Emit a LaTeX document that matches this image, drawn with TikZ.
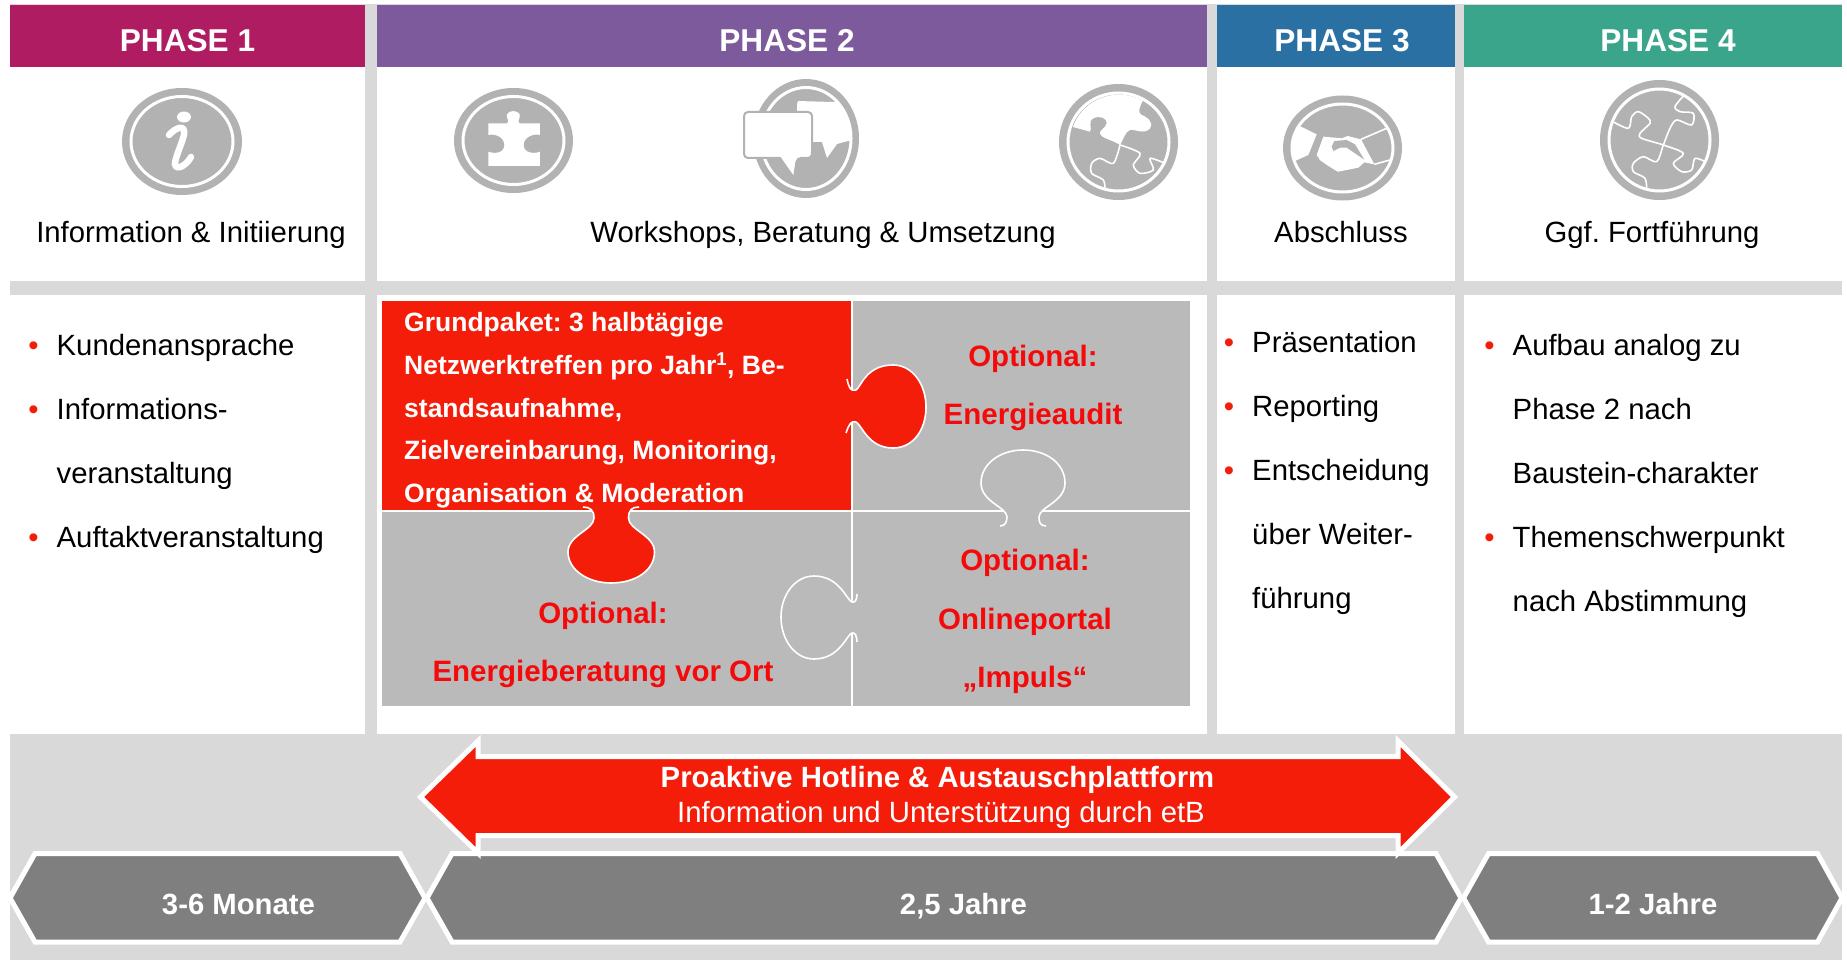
\documentclass[tikz,border=0pt]{standalone}
\usepackage{fontspec}
\setmainfont{Liberation Sans}
\frenchspacing
\usetikzlibrary{shapes.geometric}
\definecolor{phaseone}{HTML}{AF1C62}
\definecolor{phasetwo}{HTML}{7D5A9C}
\definecolor{phasethree}{HTML}{2A70A3}
\definecolor{phasefour}{HTML}{3BA58C}
\definecolor{signalred}{HTML}{F41D0A}
\definecolor{textred}{HTML}{F40A0A}
\definecolor{backgray}{HTML}{D9D9D9}
\definecolor{tilegray}{HTML}{BABABA}
\definecolor{icongray}{HTML}{B2B2B2}
\definecolor{spangray}{HTML}{7F7F7F}
\newcommand{\listdot}{\llap{\textcolor{signalred}{\textbullet}\hspace{18pt}}}
\tikzstyle{panel} =
        [
                rectangle,
                fill = white,
                anchor = north west,
                inner sep = 0pt
        ]
\tikzstyle{phase} =
        [
                rectangle,
                anchor = north west,
                text = white,
                inner sep = 0pt,
                minimum height = 62pt,
                font = \fontsize{31.6}{36}\selectfont\bfseries
        ]
\tikzstyle{subtitle} =
        [
                anchor = base,
                inner sep = 0pt,
                font = \fontsize{29.3}{34}\selectfont
        ]
\tikzstyle{listing} =
        [
                anchor = north west,
                align = left,
                inner sep = 0pt,
                font = \fontsize{29.3}{64.2}\selectfont
        ]
\tikzstyle{badge} =
        [
                ellipse,
                fill = icongray,
                inner sep = 0pt
        ]
\tikzstyle{ring} =
        [
                draw = white,
                line width = 3pt
        ]
\tikzstyle{seam} =
        [
                draw = white,
                line width = 1.6pt,
                line join = round
        ]
\tikzstyle{tile} =
        [
                rectangle,
                anchor = north west,
                fill = tilegray,
                inner sep = 0pt
        ]
\tikzstyle{option} =
        [
                inner sep = 0pt,
                text = textred,
                font = \fontsize{29.5}{34}\selectfont\bfseries
        ]
\tikzstyle{span} =
        [
                draw = white,
                fill = spangray,
                line width = 5pt,
                line join = miter
        ]
\tikzstyle{spantext} =
        [
                inner sep = 0pt,
                anchor = base,
                text = white,
                font = \fontsize{29.3}{34}\selectfont\bfseries
        ]

\begin{document}
\begin{tikzpicture}[x = 1pt, y = -1pt]
        \useasboundingbox (0,0) rectangle (1847,960);
        \node [panel, fill = backgray, minimum width = 1832pt, minimum height = 956pt] (back) at (10,4) {};

        \node [panel, minimum width = 355pt, minimum height = 214pt] (headone) at (10,67) {};
        \node [panel, minimum width = 830pt, minimum height = 214pt] (headtwo) at (377,67) {};
        \node [panel, minimum width = 238pt, minimum height = 214pt] (headthree) at (1217,67) {};
        \node [panel, minimum width = 378pt, minimum height = 214pt] (headfour) at (1464,67) {};
        \node [panel, minimum width = 355pt, minimum height = 439pt] (bodyone) at (10,295) {};
        \node [panel, minimum width = 830pt, minimum height = 439pt] (bodytwo) at (377,295) {};
        \node [panel, minimum width = 238pt, minimum height = 439pt] (bodythree) at (1217,295) {};
        \node [panel, minimum width = 378pt, minimum height = 439pt] (bodyfour) at (1464,295) {};

        \node [phase, fill = phaseone, minimum width = 355pt] (phase1) at (10,5) {};
        \node [phase, fill = phasetwo, minimum width = 830pt] (phase2) at (377,5) {};
        \node [phase, fill = phasethree, minimum width = 238pt] (phase3) at (1217,5) {};
        \node [phase, fill = phasefour, minimum width = 378pt] (phase4) at (1464,5) {};
        \node [phase, minimum height = 0pt, anchor = center] (label1) at (187.5,41) {PHASE 1};
        \node [phase, minimum height = 0pt, anchor = center] (label2) at (787,41) {PHASE 2};
        \node [phase, minimum height = 0pt, anchor = center] (label3) at (1342,41) {PHASE 3};
        \node [phase, minimum height = 0pt, anchor = center] (label4) at (1668,41) {PHASE 4};

        % info
        \node [badge, minimum width = 120pt, minimum height = 107pt] (iconinfo) at (182,141.5) {};
        \draw [ring] (iconinfo.center) ellipse [x radius = 51, y radius = 45];
        \fill [white] (184,117) ellipse [x radius = 7, y radius = 5.5];
        \draw [white, line width = 6.5pt, line cap = round] (169,135) .. controls (176,127) and (186,124) .. (184,135) .. controls (181,146) and (175,158) .. (175,164) .. controls (176,171) and (186,166) .. (191,157);

        % piece
        \node [badge, minimum width = 119pt, minimum height = 105pt] (iconpiece) at (513.5,140.5) {};
        \draw [ring] (iconpiece.center) ellipse [x radius = 50.5, y radius = 44];
        \begin{scope}[shift = {(445,80)}, x = 0.3333pt, y = -0.3333pt]
                \fill [white] (130,130) -- (186,130) .. controls (196,125) and (182,112) .. (186,103) .. controls (192,90) and (218,90) .. (224,103) .. controls (228,112) and (214,125) .. (224,130) -- (285,130) -- (285,165) .. controls (268,160) and (236,170) .. (236,195) .. controls (236,220) and (268,222) .. (285,215) -- (285,258) -- (130,258) -- (130,215) .. controls (148,222) and (178,220) .. (178,195) .. controls (178,170) and (148,160) .. (130,165) -- cycle;
        \end{scope}

        % chat
        \node [badge, minimum width = 106pt, minimum height = 119pt] (iconchat) at (806,138.5) {};
        \draw [ring] (iconchat.center) ellipse [x radius = 45, y radius = 51];
        \begin{scope}
                \clip (iconchat.center) ellipse [x radius = 44, y radius = 50];
                \fill [white] (797,104) -- (798,101) -- (832,102) -- (870,100) -- (870,140) -- (848,141) -- (837,144) -- (827,158) -- (822,142) -- (812,142) -- (790,130) -- (797,125) -- cycle;
        \end{scope}
        \draw [icongray, fill = white, line width = 2pt, rounded corners = 4pt] (744,112) -- (812,112) -- (812,158) -- (797,158) [sharp corners] -- (794,178) -- (780,158) [rounded corners = 4pt] -- (744,158) -- cycle;

        % link
        \node [badge, minimum width = 119pt, minimum height = 116pt] (iconlink) at (1118.5,142) {};
        \draw [ring] (iconlink.center) ellipse [x radius = 50.5, y radius = 49];
        \begin{scope}[shift = {(1050,75)}, x = 0.3333pt, y = -0.3333pt]
                \clip (207,202) ellipse [x radius = 146, y radius = 143];
                \fill [white] (0,0) -- (0,135) -- (65,155) -- (120,170) .. controls (128,160) and (112,140) .. (130,130) .. controls (150,120) and (172,130) .. (170,145) .. controls (168,158) and (148,165) .. (150,175) .. controls (152,190) and (190,195) .. (210,210) .. controls (220,195) and (225,170) .. (240,165) .. controls (255,162) and (285,180) .. (300,160) .. controls (312,140) and (290,125) .. (275,120) .. controls (262,115) and (268,95) .. (280,75) -- (290,0) -- cycle;
                \draw [seam, smooth] plot coordinates {(210,210) (270,235) (250,270) (270,295) (310,285) (300,250) (345,265)};
                \draw [seam, smooth] plot coordinates {(210,210) (190,265) (150,250) (125,265) (125,295) (160,315) (165,345)};
        \end{scope}

        % shake
        \node [badge, minimum width = 119pt, minimum height = 105pt] (iconshake) at (1342.5,148) {};
        \draw [ring] (iconshake.center) ellipse [x radius = 50.5, y radius = 44];
        \begin{scope}[shift = {(1275,85)}, x = 0.3333pt, y = -0.3333pt]
                \clip (205,188) ellipse [x radius = 151, y radius = 132];
                \fill [white] (30,100) -- (78,125) -- (125,148) -- (100,210) -- (60,228) -- (30,240) -- cycle;
                \fill [white] (145,155) -- (200,160) -- (218,153) -- (258,163) -- (298,238) -- (268,232) -- (250,248) -- (190,260) -- (135,225) -- (125,210) -- cycle;
                \fill [icongray] (178,168) -- (215,165) -- (240,178) -- (268,224) -- (215,188) -- (195,188) -- (175,198) -- (170,185) -- cycle;
                \draw [seam] (258,163) -- (335,130);
                \draw [seam] (298,238) -- (345,225) -- (360,232);
                \draw [seam, smooth] plot coordinates {(135,222) (160,240) (190,258)};
        \end{scope}

        % four
        \node [badge, minimum width = 119pt, minimum height = 120pt] (iconfour) at (1659.5,140) {};
        \draw [ring] (iconfour.center) ellipse [x radius = 50.5, y radius = 51];
        \begin{scope}[shift = {(1595,75)}, x = 0.3333pt, y = -0.3333pt]
                \clip (193,195) ellipse [x radius = 152, y radius = 153];
                \draw [seam, smooth] plot coordinates {(50,138) (100,160) (110,125) (130,110) (160,130) (165,145) (135,175) (140,190) (205,210) (265,235) (235,265) (260,290) (290,285) (300,250) (335,262)};
                \draw [seam, smooth] plot coordinates {(268,60) (240,95) (255,110) (295,115) (290,150) (245,135) (225,160) (205,210) (185,260) (145,245) (115,265) (115,290) (150,310) (155,345)};
        \end{scope}

        \node [subtitle] (subone) at (191,243) {Information \& Initiierung};
        \node [subtitle] (subtwo) at (823,243) {Workshops, Beratung \& Umsetzung};
        \node [subtitle] (subthree) at (1341,243) {Abschluss};
        \node [subtitle] (subfour) at (1652,243) {Ggf. Fortführung};

        \node [listing] (listone) at (56.5,333.6) {\listdot Kundenansprache\\\listdot Informations-\\veranstaltung\\\listdot Auftaktveranstaltung};
        \node [listing] (listthree) at (1252,330.6) {\listdot Präsentation\\\listdot Reporting\\\listdot Entscheidung\\über Weiter-\\führung};
        \node [listing] (listfour) at (1512.5,333.6) {\listdot Aufbau analog zu\\Phase 2 nach\\Baustein-charakter\\\listdot Themenschwerpunkt\\nach Abstimmung};

        \node [tile, minimum width = 808pt, minimum height = 405pt] (tileback) at (382,301) {};
        \node [tile, fill = signalred, minimum width = 470pt, minimum height = 210pt] (tilebase) at (382,301) {};
        \draw [seam] (382,511) -- (1190,511);
        \draw [seam] (852,301) -- (852,706);
        \draw [seam, fill = signalred] (847,379) .. controls (849,389) and (852,392) .. (856,390) .. controls (861,387) and (866,365) .. (893,365) .. controls (913,365) and (926,385) .. (926,407) .. controls (926,430) and (913,448) .. (893,448) .. controls (868,448) and (862,425) .. (856,422) .. controls (852,420) and (849,424) .. (846,433);
        \fill [signalred] (848,391) rectangle (858,421);
        \draw [seam, fill = signalred] (583,507) .. controls (590,507) and (594,510) .. (594,518) .. controls (594,530) and (568,535) .. (568,552) .. controls (568,570) and (588,583) .. (611,583) .. controls (636,583) and (654.5,570) .. (654.5,552) .. controls (654.5,535) and (628.5,530) .. (628.5,518) .. controls (628.5,510) and (632,507) .. (639,507);
        \fill [signalred] (596,506) rectangle (627,525);
        \draw [seam, fill = tilegray] (1000,526) .. controls (1005,526) and (1007,522) .. (1007,517) .. controls (1007,507) and (981,502) .. (981,483) .. controls (981,464) and (1000,450) .. (1023,450) .. controls (1047,450) and (1065,464) .. (1065,483) .. controls (1065,502) and (1039,507) .. (1039,517) .. controls (1039,522) and (1040,526) .. (1046,526);
        \fill [tilegray] (1009,509) rectangle (1037,527);
        \draw [seam, fill = tilegray] (857,594) .. controls (857,600) and (855,603) .. (852,602) .. controls (847,601) and (840,576) .. (814,576) .. controls (795,576) and (781,595) .. (781,617) .. controls (781,640) and (795,659) .. (814,659) .. controls (840,659) and (847,634) .. (852,633) .. controls (855,632) and (857,636) .. (857,642);
        \fill [tilegray] (843,604) rectangle (856,631);

        \node [anchor = north west, align = left, inner sep = 0pt, text = white, font = \fontsize{26.5}{42.8}\selectfont\bfseries] (base) at (404,312) {Grundpaket: 3 halbtägige\\Netzwerktreffen pro Jahr\textsuperscript{1}, Be-\\standsaufnahme,\\Zielvereinbarung, Monitoring,\\Organisation \& Moderation};
        \node [option] (optaudit) at (1033,358.5) {Optional:};
        \node [option] (audit) at (1033,417) {Energieaudit};
        \node [option] (optvisit) at (603,615.5) {Optional:};
        \node [option] (visit) at (603,674) {Energieberatung vor Ort};
        \node [option] (optportal) at (1025,562.5) {Optional:};
        \node [option] (portal) at (1025,622) {Onlineportal};
        \node [option] (impuls) at (1025,679.5) {„Impuls“};

        \draw [span] (10,898) -- (35,853.5) -- (400,853.5) -- (425,898) -- (400,942) -- (35,942) -- cycle;
        \draw [span] (427,898) -- (452,853.5) -- (1436,853.5) -- (1461,898) -- (1436,942) -- (452,942) -- cycle;
        \draw [span] (1463.5,898) -- (1488.5,853.5) -- (1817.5,853.5) -- (1842,898) -- (1817.5,942) -- (1488.5,942) -- cycle;
        \node [spantext] (spanone) at (238.5,914.5) {3-6 Monate};
        \node [spantext] (spantwo) at (963.5,914.5) {2,5 Jahre};
        \node [spantext] (spanthree) at (1653,914.5) {1-2 Jahre};

        \draw [span, fill = signalred] (420.5,797) -- (478,741) -- (478,756.5) -- (1398,756.5) -- (1398,741) -- (1454.5,797) -- (1398,853) -- (1398,835.5) -- (478,835.5) -- (478,853) -- cycle;
        \node [spantext] (hotline) at (937.5,787.5) {Proaktive Hotline \& Austauschplattform};
        \node [spantext, font = \fontsize{29.3}{34}\selectfont] (support) at (941,822.5) {Information und Unterstützung durch etB};
\end{tikzpicture}
\end{document}
